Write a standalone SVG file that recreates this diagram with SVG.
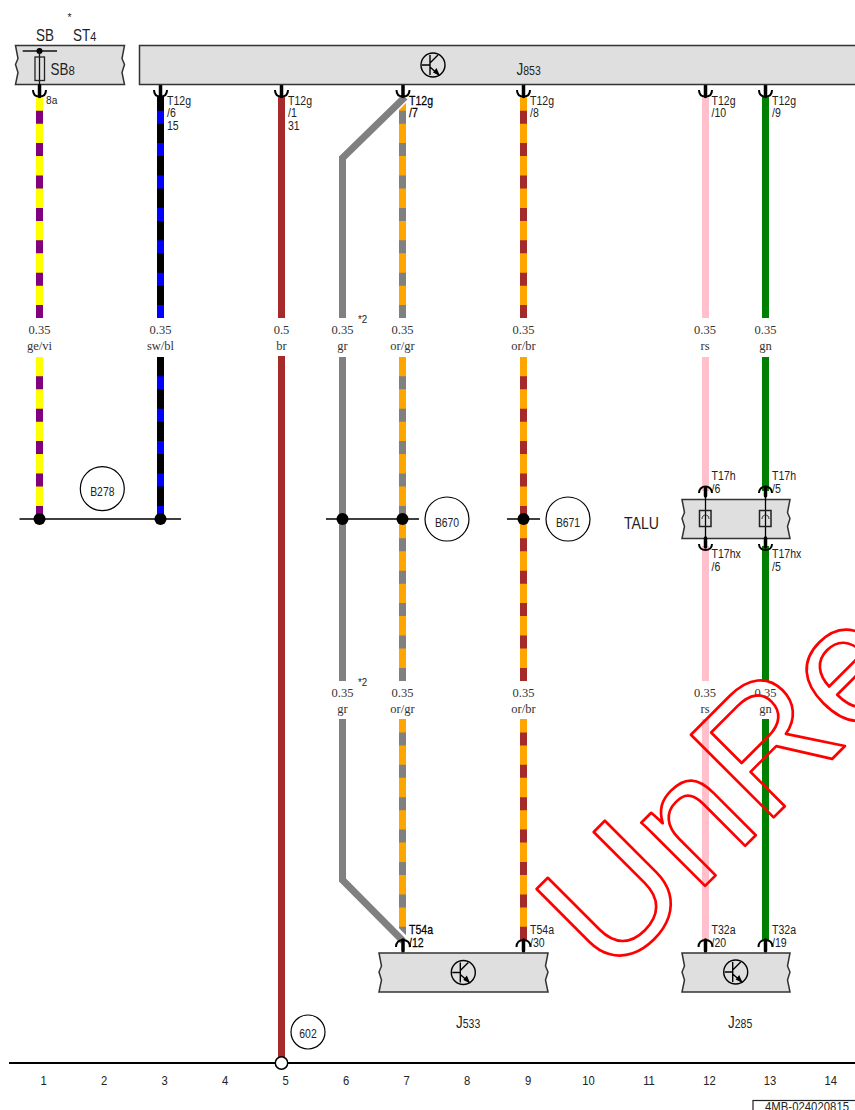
<svg xmlns="http://www.w3.org/2000/svg" width="855" height="1110" viewBox="0 0 855 1110">
<style>
text{font-family:"Liberation Sans",Arial,sans-serif;fill:#222}
.t{font-size:13.5px}
.d{fill:#000;stroke:#000;stroke-width:.25}
.s{font-size:11.5px}
.lg{font-size:16px}
.n{font-size:12.5px}
.m{font-family:"Liberation Serif","Times New Roman",serif;font-size:12.5px;text-anchor:middle;fill:#333}
.w{fill:none;stroke-width:7}
.dash{stroke-dasharray:13 19.4}
.ye{stroke:#ff0}.vi{stroke:#800080}.bk{stroke:#000}.bl{stroke:#00f}.br{stroke:#a52a2a}.or{stroke:#ffa500}.gr{stroke:#808080}.rs{stroke:#ffc0cb}.gn{stroke:#008000}
.box{fill:#dfdfdf;stroke:#333;stroke-width:1.5}
.ln{fill:none;stroke:#000;stroke-width:1.5}
.stem{fill:none;stroke:#000;stroke-width:3.5;stroke-linecap:round}
.cup{fill:none;stroke:#000;stroke-width:2}
.bus{fill:none;stroke:#000;stroke-width:1.6}
.circ{fill:#fff;stroke:#000;stroke-width:1.2}
.ic{fill:none;stroke:#000;stroke-width:1.4}
</style>
<defs>
<g id="icon">
<circle class="ic" r="12"/>
<path class="ic" d="M-11 0H-3M-3-10V10M-3-2L5-10M-3 2L6 10"/>
<path d="M7 11L0 7.500L3.500 3Z" fill="#000"/>
</g>
<g id="down"><path class="stem" d="M0-11V0"/><path class="cup" d="M-6.500-6.500C-6.500-2 -3.500 0 0 0S6.500-2 6.500-6.500"/></g>
<g id="up"><path class="stem" d="M0 0V11"/><path class="cup" d="M-7 7C-7 2.500 -4 0 0 0S7 2.500 7 7"/></g>
<g id="pass">
<path d="M0-10V46" stroke="#000" stroke-width="1.300" fill="none"/>
<path class="stem" d="M0-11V-3M0 39V48"/>
<path class="cup" d="M-6.500-6C-6.500-10 -3.500-12.500 0-12.500S6.500-10 6.500-6"/>
<path class="cup" d="M-6.500 45C-6.500 49 -3.500 51 0 51S6.500 49 6.500 45"/>
<rect x="-6" y="11.500" width="11.500" height="16" fill="none" stroke="#222" stroke-width="1.500"/>
<path d="M-3.500 20C-3.500 17 -1.500 16 0 16S3.500 17 3.500 20" fill="none" stroke="#222" stroke-width=".9"/>
</g>
</defs>

<g id="connectors">
<path class="w ye" d="M39.500 97V318M39.500 357V519"/>
<path class="w vi dash" d="M39.500 110.700V318M39.500 376.300V519"/>
<path class="w bk" d="M160.500 97V318M160.500 357V519"/>
<path class="w bl dash" d="M160.500 110.700V318M160.500 376.300V519"/>
<path class="w br" d="M281.500 97V318M281.500 356V1057"/>
<path class="w gr" d="M405 97L342.500 158V318M342.500 357V681M342.500 719V880L403 941"/>
<path d="M399 110L406 103V318H399Z" fill="#ffa500"/>
<path class="w gr dash" d="M402.500 110.700V318"/>
<path class="w or" d="M402.500 357V681"/>
<path class="w gr dash" d="M402.500 376.300V681"/>
<path d="M399 719H406V935L399 928Z" fill="#ffa500"/>
<path d="M399 862H406V875H399ZM399 894.400H406V907.400H399ZM399 926.800H406V935L399 928Z M399 829.600H406V842.600H399ZM399 797.200H406V810.200H399ZM399 764.800H406V777.800H399ZM399 732.400H406V745.400H399Z" fill="#808080"/>
<path class="w or" d="M523.500 97V318M523.500 357V681M523.500 719V940"/>
<path class="w br dash" d="M523.500 110.700V318M523.500 376.300V681M523.500 732.400V940"/>
<path class="w rs" d="M705.500 97V318M705.500 357V491M705.500 546V681M705.500 719V940"/>
<path class="w gn" d="M765.500 97V318M765.500 357V491M765.500 546V681M765.500 719V940"/>
<path class="bus" d="M19.500 519H181M326 519H419M507 519H540"/>
<g fill="#000"><circle cx="39.500" cy="519" r="6"/><circle cx="160.500" cy="519" r="6"/><circle cx="342.500" cy="519" r="6"/><circle cx="402.500" cy="519" r="6"/><circle cx="523.500" cy="519" r="6"/></g>
<use href="#down" x="160.500" y="96.500"/><use href="#down" x="281.500" y="96.500"/><use href="#down" x="403" y="96.500"/><use href="#down" x="523.500" y="96.500"/><use href="#down" x="705.500" y="96.500"/><use href="#down" x="765.500" y="96.500"/>
<use href="#up" x="403" y="940"/><use href="#up" x="523.500" y="940"/><use href="#up" x="705.500" y="940"/><use href="#up" x="765.500" y="940"/>
<path d="M9 1063H855" stroke="#000" stroke-width="2.200" fill="none"/>
<circle cx="281.500" cy="1063" r="6.200" fill="#fff" stroke="#000" stroke-width="1.500"/>
</g>

<g id="wire-labels">
<text class="m" x="39.500" y="334">0.35</text><text class="m" x="39.500" y="350">ge/vi</text>
<text class="m" x="160.500" y="334">0.35</text><text class="m" x="160.500" y="350">sw/bl</text>
<text class="m" x="281.500" y="334">0.5</text><text class="m" x="281.500" y="350">br</text>
<text class="m" x="342.500" y="334">0.35</text><text class="m" x="342.500" y="350">gr</text>
<text class="m" x="402.500" y="334">0.35</text><text class="m" x="402.500" y="350">or/gr</text>
<text class="m" x="523.500" y="334">0.35</text><text class="m" x="523.500" y="350">or/br</text>
<text class="m" x="705" y="334">0.35</text><text class="m" x="705" y="350">rs</text>
<text class="m" x="765.500" y="334">0.35</text><text class="m" x="765.500" y="350">gn</text>
<text class="m" x="342.500" y="697">0.35</text><text class="m" x="342.500" y="713">gr</text>
<text class="m" x="402.500" y="697">0.35</text><text class="m" x="402.500" y="713">or/gr</text>
<text class="m" x="523.500" y="697">0.35</text><text class="m" x="523.500" y="713">or/br</text>
<text class="m" x="705" y="697">0.35</text><text class="m" x="705" y="713">rs</text>
<text class="m" x="765.500" y="697">0.35</text><text class="m" x="765.500" y="713">gn</text>
<text class="s" transform="matrix(.85 0 0 1 358 323)">*2</text>
<text class="s" transform="matrix(.85 0 0 1 358 686)">*2</text>
</g>

<g id="SB">
<path class="box" d="M15.500 45.500L18 58.500L15.500 64.500L18 72.500L15.500 84.500H124.500L122 72.500L124.500 64.500L122 58.500L124.500 45.500Z"/>
<path d="M22.700 51H57" stroke="#111" stroke-width="1.300" fill="none"/>
<circle cx="39.500" cy="51" r="3" fill="#000"/>
<path d="M39.500 51V97" stroke="#111" stroke-width="1.300" fill="none"/>
<rect x="35" y="57" width="9.500" height="23.500" fill="none" stroke="#222" stroke-width="1.300"/>
<use href="#down" x="39.500" y="96.500"/>
<text class="lg" transform="matrix(.84 0 0 1 36 41)">SB</text>
<text class="lg" transform="matrix(.84 0 0 1 73 41)">ST<tspan font-size="13">4</tspan></text>
<text class="s" transform="matrix(.9 0 0 1 67.500 21)">*</text>
<text class="lg" transform="matrix(.84 0 0 1 50.500 75)">SB<tspan font-size="13.500">8</tspan></text>
<text class="s" transform="matrix(.88 0 0 1 46 104)">8a</text>
</g>

<g id="J853">
<rect class="box" x="139.500" y="45.500" width="730" height="39"/>
<use href="#icon" x="433" y="65"/>
<text class="lg" transform="matrix(.84 0 0 1 516.500 75)">J<tspan font-size="12.500">853</tspan></text>
<text class="t" transform="matrix(.78 0 0 1 167 105)">T12g</text><text class="t" transform="matrix(.78 0 0 1 167 117)">/6</text><text class="t" transform="matrix(.78 0 0 1 167 130)">15</text>
<text class="t" transform="matrix(.78 0 0 1 288 105)">T12g</text><text class="t" transform="matrix(.78 0 0 1 288 117)">/1</text><text class="t" transform="matrix(.78 0 0 1 288 130)">31</text>
<text class="t d" transform="matrix(.78 0 0 1 409 105)">T12g</text><text class="t d" transform="matrix(.78 0 0 1 409 117)">/7</text>
<text class="t" transform="matrix(.78 0 0 1 530 105)">T12g</text><text class="t" transform="matrix(.78 0 0 1 530 117)">/8</text>
<text class="t" transform="matrix(.78 0 0 1 711.500 105)">T12g</text><text class="t" transform="matrix(.78 0 0 1 711.500 117)">/10</text>
<text class="t" transform="matrix(.78 0 0 1 772 105)">T12g</text><text class="t" transform="matrix(.78 0 0 1 772 117)">/9</text>
</g>

<g id="B278"><circle class="circ" cx="102.300" cy="488.700" r="22"/><text class="t" text-anchor="middle" transform="matrix(.77 0 0 1 102.300 496)">B278</text></g>
<g id="B670"><circle class="circ" cx="447" cy="519" r="22"/><text class="t" text-anchor="middle" transform="matrix(.77 0 0 1 447 527)">B670</text></g>
<g id="B671"><circle class="circ" cx="568" cy="519" r="22"/><text class="t" text-anchor="middle" transform="matrix(.77 0 0 1 568 527)">B671</text></g>
<g id="W602"><circle class="circ" cx="308" cy="1032" r="17"/><text class="t" text-anchor="middle" transform="matrix(.77 0 0 1 308 1038)">602</text></g>

<g id="TALU">
<path class="box" d="M682 499.500L684.500 512.500L682 518.500L684.500 526.500L682 538.500H790L787.500 526.500L790 518.500L787.500 512.500L790 499.500Z"/>
<use href="#pass" x="705.500" y="499"/>
<use href="#pass" x="765.500" y="499"/>
<text class="lg" transform="matrix(.88 0 0 1 624 529)">TALU</text>
<text class="t" transform="matrix(.78 0 0 1 711.500 480)">T17h</text><text class="t" transform="matrix(.78 0 0 1 711.500 493)">/6</text>
<text class="t" transform="matrix(.78 0 0 1 772 480)">T17h</text><text class="t" transform="matrix(.78 0 0 1 772 493)">/5</text>
<text class="t" transform="matrix(.78 0 0 1 711.500 557.500)">T17hx</text><text class="t" transform="matrix(.78 0 0 1 711.500 571)">/6</text>
<text class="t" transform="matrix(.78 0 0 1 772 557.500)">T17hx</text><text class="t" transform="matrix(.78 0 0 1 772 571)">/5</text>
</g>

<g id="J533">
<path class="box" d="M379 953L381.500 966L379 972L381.500 980L379 992H548L545.500 980L548 972L545.500 966L548 953Z"/>
<use href="#icon" x="463.300" y="972.500"/>
<text class="t d" transform="matrix(.78 0 0 1 409 934)">T54a</text><text class="t d" transform="matrix(.78 0 0 1 409 947)">/12</text>
<text class="t" transform="matrix(.78 0 0 1 530 934)">T54a</text><text class="t" transform="matrix(.78 0 0 1 530 947)">/30</text>
<text class="lg" transform="matrix(.84 0 0 1 456 1028)">J<tspan font-size="12.500">533</tspan></text>
</g>

<g id="J285">
<path class="box" d="M682 953L684.500 966L682 972L684.500 980L682 992H790L787.500 980L790 972L787.500 966L790 953Z"/>
<use href="#icon" x="735.700" y="972"/>
<text class="t" transform="matrix(.78 0 0 1 711.500 934)">T32a</text><text class="t" transform="matrix(.78 0 0 1 711.500 947)">/20</text>
<text class="t" transform="matrix(.78 0 0 1 772 934)">T32a</text><text class="t" transform="matrix(.78 0 0 1 772 947)">/19</text>
<text class="lg" transform="matrix(.84 0 0 1 728 1028)">J<tspan font-size="12.500">285</tspan></text>
</g>

<g id="columns">
<text class="n" text-anchor="middle" transform="matrix(.9 0 0 1 43.500 1085)">1</text>
<text class="n" text-anchor="middle" transform="matrix(.9 0 0 1 104 1085)">2</text>
<text class="n" text-anchor="middle" transform="matrix(.9 0 0 1 164.500 1085)">3</text>
<text class="n" text-anchor="middle" transform="matrix(.9 0 0 1 225 1085)">4</text>
<text class="n" text-anchor="middle" transform="matrix(.9 0 0 1 285.500 1085)">5</text>
<text class="n" text-anchor="middle" transform="matrix(.9 0 0 1 346 1085)">6</text>
<text class="n" text-anchor="middle" transform="matrix(.9 0 0 1 406.500 1085)">7</text>
<text class="n" text-anchor="middle" transform="matrix(.9 0 0 1 467 1085)">8</text>
<text class="n" text-anchor="middle" transform="matrix(.9 0 0 1 528 1085)">9</text>
<text class="n" text-anchor="middle" transform="matrix(.9 0 0 1 588.500 1085)">10</text>
<text class="n" text-anchor="middle" transform="matrix(.9 0 0 1 649 1085)">11</text>
<text class="n" text-anchor="middle" transform="matrix(.9 0 0 1 709.500 1085)">12</text>
<text class="n" text-anchor="middle" transform="matrix(.9 0 0 1 770 1085)">13</text>
<text class="n" text-anchor="middle" transform="matrix(.9 0 0 1 830.700 1085)">14</text>
</g>

<g id="drawing-number">
<rect x="753" y="1100.500" width="120" height="30" fill="#fff" stroke="#222" stroke-width="1.200"/>
<text class="n" transform="matrix(.91 0 0 1 765 1111)">4MB-024020815</text>
</g>

<g id="watermark">
<text x="0" y="0" transform="translate(610 981) rotate(-45)" font-size="170" style="fill:none;stroke:#f00;stroke-width:2.700;stroke-linejoin:round">UnRe</text>
</g>
</svg>
